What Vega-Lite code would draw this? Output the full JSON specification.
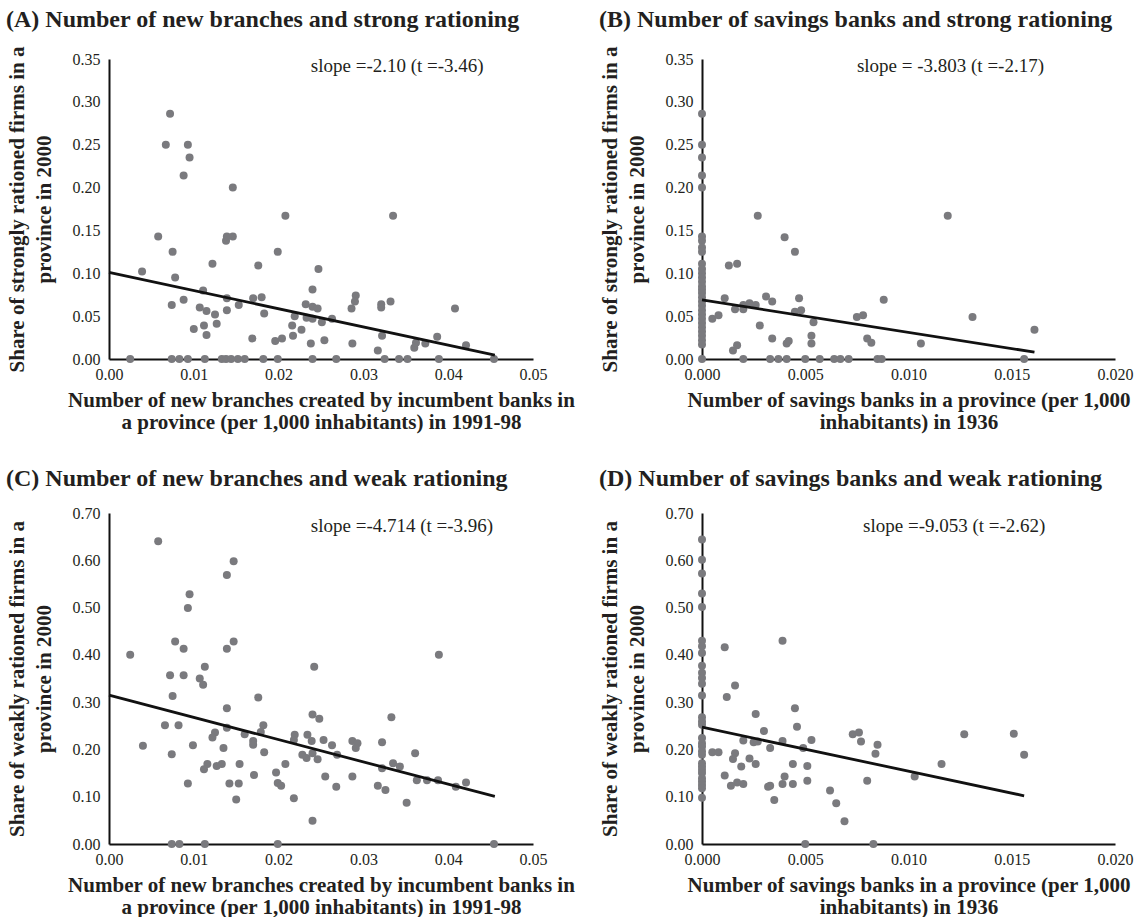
{
  "$schema": "https://vega.github.io/schema/vega-lite/v6.json",
  "background": "white",
  "padding": {"left": 6, "top": 8, "right": 2, "bottom": 0},
  "config": {
    "view": {"stroke": null},
    "font": "Liberation Serif",
    "axis": {"domainColor": "#111111", "domainWidth": 2, "ticks": false, "grid": false, "labelFont": "Liberation Serif", "labelFontSize": 16, "labelColor": "#231f20", "titleFont": "Liberation Serif", "titleFontSize": 21, "titleFontWeight": "bold", "titleColor": "#231f20", "labelFlush": false, "labelOverlap": false},
    "axisX": {"labelPadding": 7, "titlePadding": 7, "titleLineHeight": 22},
    "axisY": {"labelPadding": 9, "titlePadding": 18, "titleLineHeight": 27},
    "title": {"font": "Liberation Serif", "fontSize": 24, "fontWeight": "bold", "anchor": "start", "frame": "bounds", "color": "#231f20", "offset": 14}
  },
  "datasets": {
    "ptsA": [
      {"x":0.0025,"y":0},{"x":0.0074,"y":0},{"x":0.0083,"y":0},{"x":0.0093,"y":0},{"x":0.0113,"y":0},{"x":0.0133,"y":0},{"x":0.0138,"y":0},{"x":0.0144,"y":0},{"x":0.0152,"y":0},{"x":0.0160,"y":0},{"x":0.0182,"y":0},{"x":0.0199,"y":0},{"x":0.0240,"y":0},{"x":0.0268,"y":0},{"x":0.0325,"y":0},{"x":0.0342,"y":0},{"x":0.0352,"y":0},{"x":0.0389,"y":0},{"x":0.0454,"y":0},
      {"x":0.0072,"y":0.286},{"x":0.0067,"y":0.250},{"x":0.0093,"y":0.250},{"x":0.0095,"y":0.235},{"x":0.0088,"y":0.214},{"x":0.0146,"y":0.200},{"x":0.0208,"y":0.167},{"x":0.0335,"y":0.167},{"x":0.0058,"y":0.143},{"x":0.0138,"y":0.138},{"x":0.0139,"y":0.143},{"x":0.0146,"y":0.143},{"x":0.0075,"y":0.125},{"x":0.0199,"y":0.125},{"x":0.0122,"y":0.111},{"x":0.0176,"y":0.109},{"x":0.0039,"y":0.102},{"x":0.0247,"y":0.105},{"x":0.0078,"y":0.095},{"x":0.0240,"y":0.081},{"x":0.0111,"y":0.080},{"x":0.0291,"y":0.074},{"x":0.0290,"y":0.067},{"x":0.0286,"y":0.059},{"x":0.0321,"y":0.064},{"x":0.0321,"y":0.060},{"x":0.0332,"y":0.067},{"x":0.0408,"y":0.059},{"x":0.0088,"y":0.069},{"x":0.0074,"y":0.063},{"x":0.0107,"y":0.060},{"x":0.0115,"y":0.056},{"x":0.0125,"y":0.052},{"x":0.0139,"y":0.071},{"x":0.0139,"y":0.057},{"x":0.0153,"y":0.063},{"x":0.0170,"y":0.071},{"x":0.0180,"y":0.072},{"x":0.0183,"y":0.053},{"x":0.0232,"y":0.064},{"x":0.0240,"y":0.061},{"x":0.0246,"y":0.059},{"x":0.0233,"y":0.048},{"x":0.0240,"y":0.047},{"x":0.0219,"y":0.050},{"x":0.0251,"y":0.043},{"x":0.0263,"y":0.047},{"x":0.0216,"y":0.039},{"x":0.0227,"y":0.034},{"x":0.0217,"y":0.027},{"x":0.0254,"y":0.022},{"x":0.0238,"y":0.018},{"x":0.0204,"y":0.024},{"x":0.0196,"y":0.021},{"x":0.0169,"y":0.024},{"x":0.0100,"y":0.035},{"x":0.0112,"y":0.039},{"x":0.0115,"y":0.028},{"x":0.0127,"y":0.041},{"x":0.0287,"y":0.018},{"x":0.0317,"y":0.010},{"x":0.0322,"y":0.027},{"x":0.0360,"y":0.013},{"x":0.0362,"y":0.019},{"x":0.0373,"y":0.018},{"x":0.0387,"y":0.026},{"x":0.0421,"y":0.016}
    ],
    "ptsB": [
      {"x":0,"y":0.286},{"x":0,"y":0.250},{"x":0,"y":0.235},{"x":0,"y":0.214},{"x":0,"y":0.200},{"x":0,"y":0.143},{"x":0,"y":0.138},{"x":0,"y":0.130},{"x":0,"y":0.125},{"x":0,"y":0.111},{"x":0,"y":0.105},{"x":0,"y":0.100},{"x":0,"y":0.095},{"x":0,"y":0.090},{"x":0,"y":0.085},{"x":0,"y":0.081},{"x":0,"y":0.077},{"x":0,"y":0.072},{"x":0,"y":0.067},{"x":0,"y":0.062},{"x":0,"y":0.057},{"x":0,"y":0.052},{"x":0,"y":0.047},{"x":0,"y":0.042},{"x":0,"y":0.037},{"x":0,"y":0.032},{"x":0,"y":0.027},{"x":0,"y":0.022},{"x":0,"y":0.017},{"x":0,"y":0},
      {"x":0.0020,"y":0},{"x":0.0033,"y":0},{"x":0.0037,"y":0},{"x":0.0041,"y":0},{"x":0.0050,"y":0},{"x":0.0057,"y":0},{"x":0.0064,"y":0},{"x":0.0067,"y":0},{"x":0.0071,"y":0},{"x":0.0085,"y":0},{"x":0.0087,"y":0},{"x":0.0156,"y":0},
      {"x":0.0027,"y":0.167},{"x":0.0119,"y":0.167},{"x":0.0040,"y":0.142},{"x":0.0045,"y":0.125},{"x":0.0013,"y":0.109},{"x":0.0017,"y":0.111},{"x":0.0011,"y":0.071},{"x":0.0031,"y":0.073},{"x":0.0034,"y":0.067},{"x":0.0047,"y":0.071},{"x":0.0088,"y":0.069},{"x":0.0005,"y":0.047},{"x":0.0008,"y":0.051},{"x":0.0016,"y":0.058},{"x":0.0020,"y":0.058},{"x":0.0020,"y":0.063},{"x":0.0023,"y":0.065},{"x":0.0026,"y":0.063},{"x":0.0045,"y":0.055},{"x":0.0048,"y":0.057},{"x":0.0054,"y":0.043},{"x":0.0028,"y":0.039},{"x":0.0075,"y":0.049},{"x":0.0078,"y":0.051},{"x":0.0131,"y":0.049},{"x":0.0161,"y":0.034},{"x":0.0053,"y":0.027},{"x":0.0053,"y":0.018},{"x":0.0034,"y":0.024},{"x":0.0041,"y":0.018},{"x":0.0042,"y":0.021},{"x":0.0080,"y":0.024},{"x":0.0082,"y":0.019},{"x":0.0106,"y":0.018},{"x":0.0015,"y":0.010},{"x":0.0017,"y":0.016}
    ],
    "ptsC": [
      {"x":0.0074,"y":0},{"x":0.0083,"y":0},{"x":0.0113,"y":0},{"x":0.0199,"y":0},{"x":0.0454,"y":0},{"x":0.0240,"y":0.049},
      {"x":0.0058,"y":0.640},{"x":0.0147,"y":0.598},{"x":0.0139,"y":0.569},{"x":0.0095,"y":0.528},{"x":0.0093,"y":0.499},{"x":0.0078,"y":0.428},{"x":0.0088,"y":0.413},{"x":0.0147,"y":0.428},{"x":0.0139,"y":0.413},{"x":0.0025,"y":0.400},{"x":0.0389,"y":0.400},{"x":0.0242,"y":0.375},{"x":0.0113,"y":0.375},{"x":0.0072,"y":0.357},{"x":0.0088,"y":0.357},{"x":0.0107,"y":0.350},{"x":0.0111,"y":0.337},{"x":0.0075,"y":0.313},{"x":0.0176,"y":0.310},{"x":0.0139,"y":0.287},{"x":0.0240,"y":0.274},{"x":0.0248,"y":0.265},{"x":0.0333,"y":0.268},{"x":0.0066,"y":0.251},{"x":0.0082,"y":0.251},{"x":0.0182,"y":0.251},{"x":0.0139,"y":0.246},{"x":0.0125,"y":0.236},{"x":0.0122,"y":0.225},{"x":0.0179,"y":0.237},{"x":0.0160,"y":0.232},{"x":0.0170,"y":0.218},{"x":0.0170,"y":0.210},{"x":0.0219,"y":0.231},{"x":0.0218,"y":0.220},{"x":0.0234,"y":0.231},{"x":0.0239,"y":0.218},{"x":0.0253,"y":0.220},{"x":0.0263,"y":0.209},{"x":0.0287,"y":0.218},{"x":0.0293,"y":0.213},{"x":0.0291,"y":0.203},{"x":0.0322,"y":0.215},{"x":0.0040,"y":0.208},{"x":0.0099,"y":0.209},{"x":0.0135,"y":0.203},{"x":0.0074,"y":0.190},{"x":0.0183,"y":0.194},{"x":0.0228,"y":0.189},{"x":0.0233,"y":0.182},{"x":0.0240,"y":0.192},{"x":0.0246,"y":0.179},{"x":0.0269,"y":0.189},{"x":0.0361,"y":0.192},{"x":0.0208,"y":0.169},{"x":0.0154,"y":0.169},{"x":0.0127,"y":0.165},{"x":0.0133,"y":0.169},{"x":0.0116,"y":0.169},{"x":0.0112,"y":0.158},{"x":0.0322,"y":0.160},{"x":0.0335,"y":0.171},{"x":0.0343,"y":0.164},{"x":0.0171,"y":0.146},{"x":0.0197,"y":0.151},{"x":0.0255,"y":0.143},{"x":0.0287,"y":0.143},{"x":0.0363,"y":0.135},{"x":0.0375,"y":0.135},{"x":0.0388,"y":0.135},{"x":0.0421,"y":0.130},{"x":0.0409,"y":0.121},{"x":0.0093,"y":0.128},{"x":0.0142,"y":0.128},{"x":0.0153,"y":0.128},{"x":0.0199,"y":0.129},{"x":0.0203,"y":0.123},{"x":0.0268,"y":0.121},{"x":0.0317,"y":0.123},{"x":0.0326,"y":0.114},{"x":0.0150,"y":0.094},{"x":0.0218,"y":0.097},{"x":0.0351,"y":0.087}
    ],
    "ptsD": [
      {"x":0,"y":0.644},{"x":0,"y":0.601},{"x":0,"y":0.572},{"x":0,"y":0.530},{"x":0,"y":0.501},{"x":0,"y":0.430},{"x":0,"y":0.418},{"x":0,"y":0.404},{"x":0,"y":0.377},{"x":0,"y":0.362},{"x":0,"y":0.351},{"x":0,"y":0.339},{"x":0,"y":0.314},{"x":0,"y":0.268},{"x":0,"y":0.259},{"x":0,"y":0.252},{"x":0,"y":0.224},{"x":0,"y":0.213},{"x":0,"y":0.206},{"x":0,"y":0.196},{"x":0,"y":0.189},{"x":0,"y":0.171},{"x":0,"y":0.164},{"x":0,"y":0.157},{"x":0,"y":0.150},{"x":0,"y":0.139},{"x":0,"y":0.132},{"x":0,"y":0.125},{"x":0,"y":0.118},{"x":0,"y":0.098},
      {"x":0.0050,"y":0},{"x":0.0083,"y":0},{"x":0.0069,"y":0.048},
      {"x":0.0039,"y":0.430},{"x":0.0011,"y":0.416},{"x":0.0016,"y":0.335},{"x":0.0012,"y":0.311},{"x":0.0045,"y":0.287},{"x":0.0026,"y":0.275},{"x":0.0046,"y":0.248},{"x":0.0030,"y":0.239},{"x":0.0073,"y":0.232},{"x":0.0076,"y":0.236},{"x":0.0127,"y":0.232},{"x":0.0151,"y":0.233},{"x":0.0020,"y":0.219},{"x":0.0025,"y":0.215},{"x":0.0027,"y":0.217},{"x":0.0039,"y":0.218},{"x":0.0053,"y":0.220},{"x":0.0077,"y":0.217},{"x":0.0085,"y":0.210},{"x":0.0033,"y":0.203},{"x":0.0049,"y":0.203},{"x":0.0005,"y":0.194},{"x":0.0008,"y":0.194},{"x":0.0016,"y":0.192},{"x":0.0015,"y":0.180},{"x":0.0023,"y":0.181},{"x":0.0084,"y":0.191},{"x":0.0156,"y":0.189},{"x":0.0019,"y":0.164},{"x":0.0026,"y":0.169},{"x":0.0044,"y":0.169},{"x":0.0051,"y":0.165},{"x":0.0116,"y":0.169},{"x":0.0011,"y":0.145},{"x":0.0040,"y":0.143},{"x":0.0103,"y":0.143},{"x":0.0014,"y":0.123},{"x":0.0017,"y":0.130},{"x":0.0020,"y":0.127},{"x":0.0032,"y":0.121},{"x":0.0033,"y":0.123},{"x":0.0039,"y":0.127},{"x":0.0044,"y":0.127},{"x":0.0051,"y":0.134},{"x":0.0080,"y":0.134},{"x":0.0062,"y":0.113},{"x":0.0035,"y":0.093},{"x":0.0065,"y":0.086}
    ],
    "lineA": [{"x":0,"y":0.101},{"x":0.0455,"y":0.0045}],
    "lineB": [{"x":0,"y":0.069},{"x":0.0161,"y":0.008}],
    "lineC": [{"x":0,"y":0.315},{"x":0.0455,"y":0.1005}],
    "lineD": [{"x":0,"y":0.247},{"x":0.0156,"y":0.102}],
    "noteA": [{"label":"slope =-2.10 (t =-3.46)"}],
    "noteB": [{"label":"slope = -3.803 (t =-2.17)"}],
    "noteC": [{"label":"slope =-4.714 (t =-3.96)"}],
    "noteD": [{"label":"slope =-9.053 (t =-2.62)"}]
  },
  "columns": 2,
  "bounds": "flush",
  "spacing": {"row": 154, "column": 169},
  "concat": [
    {
      "width": 424, "height": 300,
      "title": "(A) Number of new branches and strong rationing",
      "layer": [
        {"data": {"name": "ptsA"}, "mark": {"type": "circle", "size": 64, "color": "#7a7a7e", "opacity": 1},
         "encoding": {
           "x": {"field": "x", "type": "quantitative", "scale": {"domain": [0, 0.05], "nice": false}, "axis": {"values": [0, 0.01, 0.02, 0.03, 0.04, 0.05], "format": ".2f", "title": ["Number of new branches created by incumbent banks in", "a province (per 1,000 inhabitants) in 1991-98"]}},
           "y": {"field": "y", "type": "quantitative", "scale": {"domain": [0, 0.35], "nice": false}, "axis": {"values": [0, 0.05, 0.1, 0.15, 0.2, 0.25, 0.3, 0.35], "format": ".2f", "title": ["Share of strongly rationed firms in a", "province in 2000"]}}
         }},
        {"data": {"name": "lineA"}, "mark": {"type": "line", "color": "#111111", "strokeWidth": 2.8},
         "encoding": {
           "x": {"field": "x", "type": "quantitative", "scale": {"domain": [0, 0.05], "nice": false}},
           "y": {"field": "y", "type": "quantitative", "scale": {"domain": [0, 0.35], "nice": false}}
         }},
        {"data": {"name": "noteA"}, "mark": {"type": "text", "align": "left", "baseline": "middle", "fontSize": 19, "color": "#231f20"},
         "encoding": {
           "text": {"field": "label"},
           "x": {"datum": 0.0238, "type": "quantitative", "scale": {"domain": [0, 0.05], "nice": false}},
           "y": {"datum": 0.342, "type": "quantitative", "scale": {"domain": [0, 0.35], "nice": false}}
         }}
      ]
    },
    {
      "width": 413, "height": 300,
      "title": "(B) Number of savings banks and strong rationing",
      "layer": [
        {"data": {"name": "ptsB"}, "mark": {"type": "circle", "size": 64, "color": "#7a7a7e", "opacity": 1},
         "encoding": {
           "x": {"field": "x", "type": "quantitative", "scale": {"domain": [0, 0.02], "nice": false}, "axis": {"values": [0, 0.005, 0.01, 0.015, 0.02], "format": ".3f", "title": ["Number of savings banks in a province (per 1,000", "inhabitants) in 1936"]}},
           "y": {"field": "y", "type": "quantitative", "scale": {"domain": [0, 0.35], "nice": false}, "axis": {"values": [0, 0.05, 0.1, 0.15, 0.2, 0.25, 0.3, 0.35], "format": ".2f", "title": ["Share of strongly rationed firms in a", "province in 2000"]}}
         }},
        {"data": {"name": "lineB"}, "mark": {"type": "line", "color": "#111111", "strokeWidth": 2.8},
         "encoding": {
           "x": {"field": "x", "type": "quantitative", "scale": {"domain": [0, 0.02], "nice": false}},
           "y": {"field": "y", "type": "quantitative", "scale": {"domain": [0, 0.35], "nice": false}}
         }},
        {"data": {"name": "noteB"}, "mark": {"type": "text", "align": "left", "baseline": "middle", "fontSize": 19, "color": "#231f20"},
         "encoding": {
           "text": {"field": "label"},
           "x": {"datum": 0.0075, "type": "quantitative", "scale": {"domain": [0, 0.02], "nice": false}},
           "y": {"datum": 0.342, "type": "quantitative", "scale": {"domain": [0, 0.35], "nice": false}}
         }}
      ]
    },
    {
      "width": 424, "height": 331,
      "title": "(C) Number of new branches and weak rationing",
      "layer": [
        {"data": {"name": "ptsC"}, "mark": {"type": "circle", "size": 64, "color": "#7a7a7e", "opacity": 1},
         "encoding": {
           "x": {"field": "x", "type": "quantitative", "scale": {"domain": [0, 0.05], "nice": false}, "axis": {"values": [0, 0.01, 0.02, 0.03, 0.04, 0.05], "format": ".2f", "title": ["Number of new branches created by incumbent banks in", "a province (per 1,000 inhabitants) in 1991-98"]}},
           "y": {"field": "y", "type": "quantitative", "scale": {"domain": [0, 0.7], "nice": false}, "axis": {"values": [0, 0.1, 0.2, 0.3, 0.4, 0.5, 0.6, 0.7], "format": ".2f", "title": ["Share of weakly rationed firms in a", "province in 2000"]}}
         }},
        {"data": {"name": "lineC"}, "mark": {"type": "line", "color": "#111111", "strokeWidth": 2.8},
         "encoding": {
           "x": {"field": "x", "type": "quantitative", "scale": {"domain": [0, 0.05], "nice": false}},
           "y": {"field": "y", "type": "quantitative", "scale": {"domain": [0, 0.7], "nice": false}}
         }},
        {"data": {"name": "noteC"}, "mark": {"type": "text", "align": "left", "baseline": "middle", "fontSize": 19, "color": "#231f20"},
         "encoding": {
           "text": {"field": "label"},
           "x": {"datum": 0.0238, "type": "quantitative", "scale": {"domain": [0, 0.05], "nice": false}},
           "y": {"datum": 0.672, "type": "quantitative", "scale": {"domain": [0, 0.7], "nice": false}}
         }}
      ]
    },
    {
      "width": 413, "height": 331,
      "title": "(D) Number of savings banks and weak rationing",
      "layer": [
        {"data": {"name": "ptsD"}, "mark": {"type": "circle", "size": 64, "color": "#7a7a7e", "opacity": 1},
         "encoding": {
           "x": {"field": "x", "type": "quantitative", "scale": {"domain": [0, 0.02], "nice": false}, "axis": {"values": [0, 0.005, 0.01, 0.015, 0.02], "format": ".3f", "title": ["Number of savings banks in a province (per 1,000", "inhabitants) in 1936"]}},
           "y": {"field": "y", "type": "quantitative", "scale": {"domain": [0, 0.7], "nice": false}, "axis": {"values": [0, 0.1, 0.2, 0.3, 0.4, 0.5, 0.6, 0.7], "format": ".2f", "title": ["Share of weakly rationed firms in a", "province in 2000"]}}
         }},
        {"data": {"name": "lineD"}, "mark": {"type": "line", "color": "#111111", "strokeWidth": 2.8},
         "encoding": {
           "x": {"field": "x", "type": "quantitative", "scale": {"domain": [0, 0.02], "nice": false}},
           "y": {"field": "y", "type": "quantitative", "scale": {"domain": [0, 0.7], "nice": false}}
         }},
        {"data": {"name": "noteD"}, "mark": {"type": "text", "align": "left", "baseline": "middle", "fontSize": 19, "color": "#231f20"},
         "encoding": {
           "text": {"field": "label"},
           "x": {"datum": 0.0078, "type": "quantitative", "scale": {"domain": [0, 0.02], "nice": false}},
           "y": {"datum": 0.672, "type": "quantitative", "scale": {"domain": [0, 0.7], "nice": false}}
         }}
      ]
    }
  ]
}
